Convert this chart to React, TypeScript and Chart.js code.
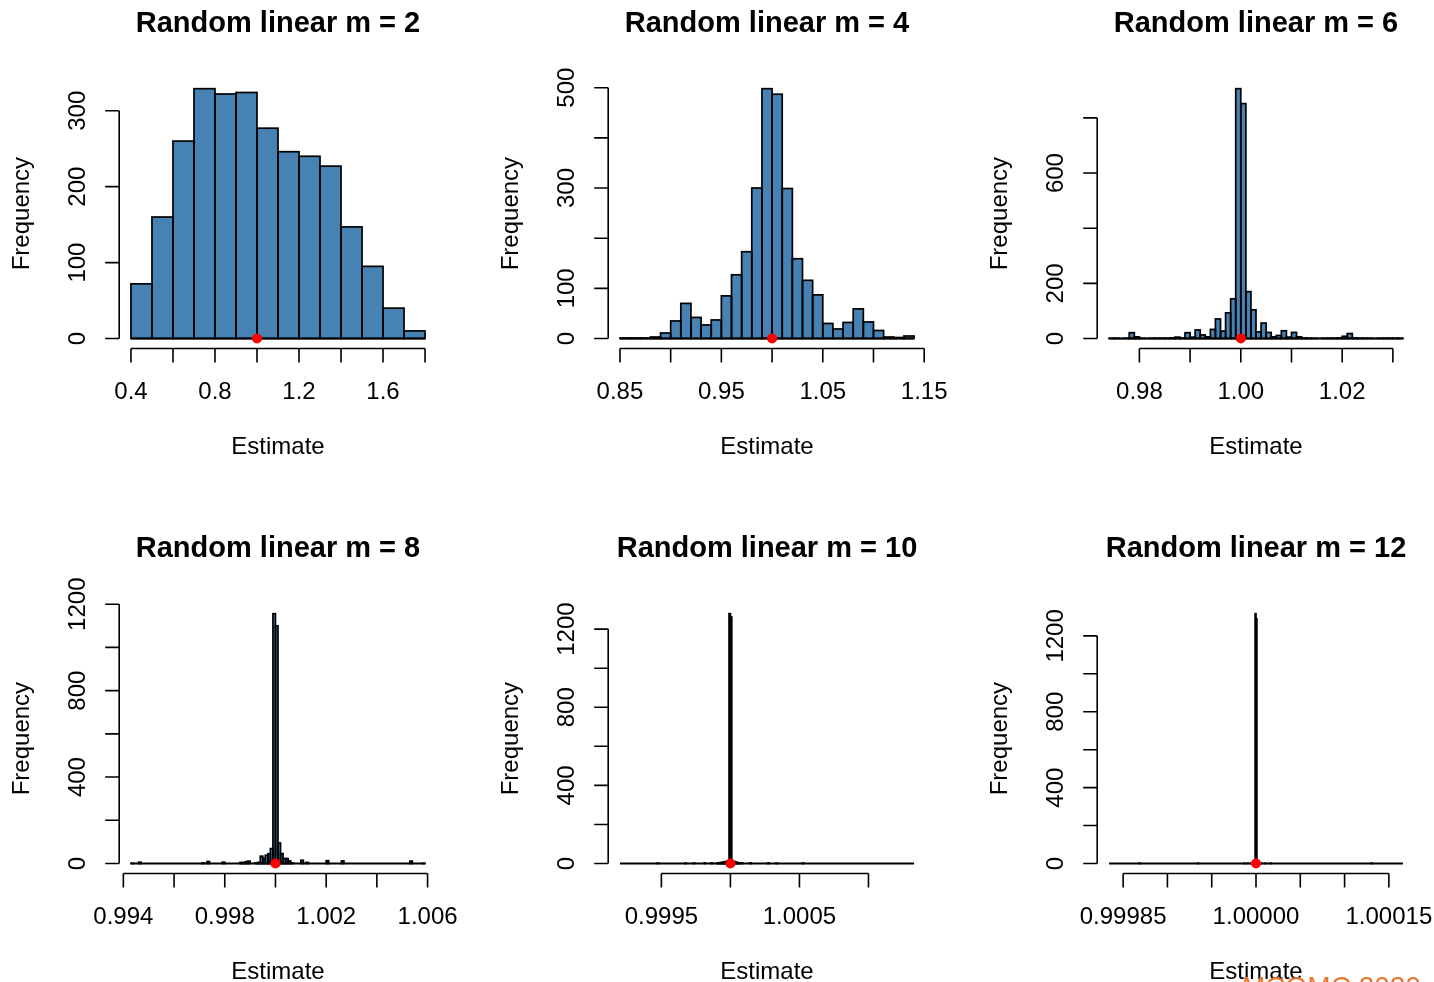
import React, { useEffect, useRef } from "react";
import { Chart, registerables } from "chart.js";

Chart.register(...registerables);

// ---------- Panel 1: m = 2 (dense bins) ----------
const m2BinStart = 0.4;
const m2BinWidth = 0.1;
const m2Counts = [72, 160, 260, 329, 322, 324, 277, 246, 240, 227, 147, 95, 40, 10];
const m2XTicks = [0.4, 0.6, 0.8, 1.0, 1.2, 1.4, 1.6, 1.8];
const m2XLabels = ["0.4", "", "0.8", "", "1.2", "", "1.6", ""];
const m2YTicks = [0, 100, 200, 300];
const m2YLabels = ["0", "100", "200", "300"];

// ---------- Panel 2: m = 4 (dense bins) ----------
const m4BinStart = 0.85;
const m4BinWidth = 0.01;
const m4Counts = [1, 1, 1, 3, 11, 35, 70, 42, 27, 37, 85, 127, 173, 300, 498, 487, 299, 159, 116, 87, 30, 19, 32, 59, 33, 16, 3, 2, 5];
const m4XTicks = [0.85, 0.9, 0.95, 1.0, 1.05, 1.1, 1.15];
const m4XLabels = ["0.85", "", "0.95", "", "1.05", "", "1.15"];
const m4YTicks = [0, 100, 200, 300, 400, 500];
const m4YLabels = ["0", "100", "", "300", "", "500"];

// ---------- Panel 3: m = 6 (dense bins) ----------
const m6BinStart = 0.974;
const m6BinWidth = 0.001;
const m6Counts = [
  1, 1, 0, 1, 21, 6, 1, 0, 1, 1,
  1, 1, 2, 5, 2, 21, 5, 31, 13, 6,
  33, 71, 27, 93, 144, 906, 852, 170, 104, 24,
  56, 22, 6, 11, 28, 5, 22, 6, 2, 1,
  1, 0, 1, 1, 1, 2, 8, 18, 2, 1,
  1, 1, 0, 1, 1, 1, 1, 1,
];
const m6XTicks = [0.98, 0.99, 1.0, 1.01, 1.02, 1.03];
const m6XLabels = ["0.98", "", "1.00", "", "1.02", ""];
const m6YTicks = [0, 200, 400, 600, 800];
const m6YLabels = ["0", "200", "", "600", ""];

// ---------- Panel 4: m = 8 (sparse non-empty bins) ----------
const m8Lo = 0.9943;
const m8Hi = 1.0059;
const m8BinWidth = 0.0001;
const m8Bins = [0.9943, 0.9946, 0.9971, 0.9973, 0.9979, 0.9986, 0.9987, 0.9988, 0.9989, 0.9992, 0.9993, 0.9994, 0.9995, 0.9996, 0.9997, 0.9998, 0.9999, 1.0, 1.0001, 1.0002, 1.0003, 1.0004, 1.0005, 1.0006, 1.001, 1.0012, 1.002, 1.0026, 1.0053, 1.0058];
const m8Counts = [1, 6, 2, 9, 6, 5, 4, 8, 11, 3, 5, 34, 24, 38, 45, 69, 1156, 1100, 95, 46, 23, 23, 12, 3, 15, 5, 13, 12, 11, 1];
const m8XTicks = [0.994, 0.996, 0.998, 1.0, 1.002, 1.004, 1.006];
const m8XLabels = ["0.994", "", "0.998", "", "1.002", "", "1.006"];
const m8YTicks = [0, 200, 400, 600, 800, 1000, 1200];
const m8YLabels = ["0", "", "400", "", "800", "", "1200"];

// ---------- Panel 5: m = 10 (sparse non-empty bins) ----------
const m10Lo = 0.9992;
const m10Hi = 1.00133;
const m10BinWidth = 0.00001;
const m10Bins = [0.99947, 0.99967, 0.99973, 0.99981, 0.99986, 0.9999, 0.99991, 0.99992, 0.99993, 0.99994, 0.99995, 0.99996, 0.99997, 0.99998, 0.99999, 1.0, 1.00001, 1.00002, 1.00003, 1.00004, 1.00005, 1.00006, 1.00008, 1.00014, 1.00027, 1.00033, 1.00052];
const m10Counts = [2, 2, 2, 3, 3, 2, 3, 4, 5, 6, 7, 9, 11, 14, 1279, 1262, 14, 10, 8, 6, 4, 3, 2, 3, 3, 2, 2];
const m10XTicks = [0.9995, 1.0, 1.0005, 1.001];
const m10XLabels = ["0.9995", "", "1.0005", ""];
const m10YTicks = [0, 200, 400, 600, 800, 1000, 1200];
const m10YLabels = ["0", "", "400", "", "800", "", "1200"];

// ---------- Panel 6: m = 12 (sparse non-empty bins) ----------
const m12Lo = 0.999834;
const m12Hi = 1.000166;
const m12BinWidth = 0.000001;
const m12Bins = [0.999868, 0.999934, 0.999986, 0.99999, 0.999994, 0.999997, 0.999999, 1.0, 1.000002, 1.000006, 1.00001, 1.000016, 1.00013];
const m12Counts = [2, 2, 1, 1, 1, 2, 1317, 1290, 2, 1, 1, 2, 2];
const m12XTicks = [0.99985, 0.9999, 0.99995, 1.0, 1.00005, 1.0001, 1.00015];
const m12XLabels = ["0.99985", "", "", "1.00000", "", "", "1.00015"];
const m12YTicks = [0, 200, 400, 600, 800, 1000, 1200];
const m12YLabels = ["0", "", "400", "", "800", "", "1200"];

const trueValue = 1;
const titles = ["Random linear m = 2", "Random linear m = 4", "Random linear m = 6", "Random linear m = 8", "Random linear m = 10", "Random linear m = 12"];

type Panel = {
  title: string;
  binWidth: number;
  binStarts: number[];
  counts: number[];
  lo: number;
  hi: number;
  xTicks: number[];
  xLabels: string[];
  yTicks: number[];
  yLabels: string[];
};

const denseStarts = (start: number, width: number, counts: number[]) =>
  counts.map((_, i) => start + i * width);

const panels: Panel[] = [
  { title: titles[0], binWidth: m2BinWidth, binStarts: denseStarts(m2BinStart, m2BinWidth, m2Counts), counts: m2Counts, lo: m2BinStart, hi: m2BinStart + m2Counts.length * m2BinWidth, xTicks: m2XTicks, xLabels: m2XLabels, yTicks: m2YTicks, yLabels: m2YLabels },
  { title: titles[1], binWidth: m4BinWidth, binStarts: denseStarts(m4BinStart, m4BinWidth, m4Counts), counts: m4Counts, lo: m4BinStart, hi: m4BinStart + m4Counts.length * m4BinWidth, xTicks: m4XTicks, xLabels: m4XLabels, yTicks: m4YTicks, yLabels: m4YLabels },
  { title: titles[2], binWidth: m6BinWidth, binStarts: denseStarts(m6BinStart, m6BinWidth, m6Counts), counts: m6Counts, lo: m6BinStart, hi: m6BinStart + m6Counts.length * m6BinWidth, xTicks: m6XTicks, xLabels: m6XLabels, yTicks: m6YTicks, yLabels: m6YLabels },
  { title: titles[3], binWidth: m8BinWidth, binStarts: m8Bins, counts: m8Counts, lo: m8Lo, hi: m8Hi, xTicks: m8XTicks, xLabels: m8XLabels, yTicks: m8YTicks, yLabels: m8YLabels },
  { title: titles[4], binWidth: m10BinWidth, binStarts: m10Bins, counts: m10Counts, lo: m10Lo, hi: m10Hi, xTicks: m10XTicks, xLabels: m10XLabels, yTicks: m10YTicks, yLabels: m10YLabels },
  { title: titles[5], binWidth: m12BinWidth, binStarts: m12Bins, counts: m12Counts, lo: m12Lo, hi: m12Hi, xTicks: m12XTicks, xLabels: m12XLabels, yTicks: m12YTicks, yLabels: m12YLabels },
];

// layout (R-like mfrow 2x3)
const CANVAS_W = 478;
const CANVAS_H = 491;
const PLOT_LEFT = 119.2;
const PLOT_TOP = 78.7;
const PLOT_W = 317.6;
const PLOT_H = 269.8;
const COL_X = [0, 489.2, 978.4];
const ROW_Y = [0, 524.8];

const FONT = '"Liberation Sans", Arial, Helvetica, sans-serif';

function makeAxesPlugin(p: Panel) {
  return {
    id: "rAxes",
    // R-style bar outlines: stroke centred on each bar edge
    afterDatasetDraw(chart: any, args: any) {
      if (args.index !== 0) return;
      const ctx = chart.ctx;
      ctx.save();
      ctx.strokeStyle = "#000";
      ctx.lineWidth = 1.7;
      ctx.lineJoin = "miter";
      args.meta.data.forEach((el: any) => {
        const top = Math.min(el.y, el.base);
        const h = Math.abs(el.base - el.y);
        ctx.strokeRect(el.x - el.width / 2, top, el.width, h);
      });
      ctx.restore();
    },
    afterDraw(chart: any) {
      const { ctx, chartArea: a, scales } = chart;
      const x = scales.x;
      const y = scales.y;
      ctx.save();
      ctx.strokeStyle = "#000";
      ctx.fillStyle = "#000";
      ctx.lineWidth = 1.6;
      ctx.lineCap = "butt";

      // x axis
      const xb = a.bottom;
      const xs = p.xTicks.map((t) => x.getPixelForValue(t));
      ctx.beginPath();
      ctx.moveTo(xs[0], xb);
      ctx.lineTo(xs[xs.length - 1], xb);
      xs.forEach((px) => {
        ctx.moveTo(px, xb);
        ctx.lineTo(px, xb + 14);
      });
      ctx.stroke();
      ctx.font = `24px ${FONT}`;
      ctx.textAlign = "center";
      ctx.textBaseline = "middle";
      xs.forEach((px, i) => {
        if (p.xLabels[i]) ctx.fillText(p.xLabels[i], px, xb + 43.5);
      });
      ctx.fillText("Estimate", (a.left + a.right) / 2, xb + 98.5);

      // y axis
      const yl = a.left;
      const ys = p.yTicks.map((t) => y.getPixelForValue(t));
      ctx.beginPath();
      ctx.moveTo(yl, ys[0]);
      ctx.lineTo(yl, ys[ys.length - 1]);
      ys.forEach((py) => {
        ctx.moveTo(yl, py);
        ctx.lineTo(yl - 14, py);
      });
      ctx.stroke();
      ys.forEach((py, i) => {
        if (!p.yLabels[i]) return;
        ctx.save();
        ctx.translate(yl - 41, py);
        ctx.rotate(-Math.PI / 2);
        ctx.fillText(p.yLabels[i], 0, 0);
        ctx.restore();
      });
      ctx.save();
      ctx.translate(yl - 97, (a.top + a.bottom) / 2);
      ctx.rotate(-Math.PI / 2);
      ctx.fillText("Frequency", 0, 0);
      ctx.restore();

      // title
      ctx.font = `bold 29px ${FONT}`;
      ctx.fillText(p.title, (a.left + a.right) / 2, a.top - 55);
      ctx.restore();
    },
  };
}

function HistPanel({ panel, left, top }: { panel: Panel; left: number; top: number }) {
  const ref = useRef<HTMLCanvasElement>(null);
  useEffect(() => {
    const p = panel;
    const ymax = Math.max(...p.counts);
    const xr = p.hi - p.lo;
    const bars = p.binStarts.map((b, i) => ({ x: b + p.binWidth / 2, y: p.counts[i] }));
    const chart = new Chart(ref.current as HTMLCanvasElement, {
      type: "bar",
      data: {
        datasets: [
          {
            type: "bar",
            data: bars,
            backgroundColor: "#4682B4",
            borderWidth: 0,
            inflateAmount: 0,
            barPercentage: 1,
            categoryPercentage: 1,
            order: 2,
          } as any,
          {
            type: "line",
            data: [
              { x: p.lo, y: 0 },
              { x: p.hi, y: 0 },
            ],
            borderColor: "#000000",
            borderWidth: 1.8,
            pointRadius: 0,
            order: 1,
          } as any,
          {
            type: "line",
            data: [{ x: trueValue, y: 0 }],
            showLine: false,
            pointRadius: 5,
            pointBackgroundColor: "#FF0000",
            pointBorderColor: "#FF0000",
            pointBorderWidth: 0,
            order: 0,
          } as any,
        ],
      },
      options: {
        animation: false,
        responsive: false,
        maintainAspectRatio: false,
        events: [],
        layout: {
          padding: {
            left: PLOT_LEFT,
            top: PLOT_TOP,
            right: CANVAS_W - PLOT_LEFT - PLOT_W,
            bottom: CANVAS_H - PLOT_TOP - PLOT_H,
          },
        },
        plugins: {
          legend: { display: false },
          tooltip: { enabled: false },
          title: { display: false },
        },
        scales: {
          x: {
            type: "linear",
            display: false,
            offset: false,
            min: p.lo - 0.04 * xr,
            max: p.hi + 0.04 * xr,
          },
          y: {
            type: "linear",
            display: false,
            min: -0.04 * ymax,
            max: 1.04 * ymax,
          },
        },
      } as any,
      plugins: [makeAxesPlugin(p)],
    });
    return () => chart.destroy();
  }, [panel]);
  return (
    <canvas
      ref={ref}
      width={CANVAS_W}
      height={CANVAS_H}
      style={{ position: "absolute", left, top, width: CANVAS_W, height: CANVAS_H }}
    />
  );
}

export default function App() {
  return (
    <div
      style={{
        position: "fixed",
        left: 0,
        top: 0,
        width: 1434,
        height: 982,
        overflow: "hidden",
        background: "#ffffff",
      }}
    >
      {panels.map((p, i) => (
        <HistPanel key={i} panel={p} left={COL_X[i % 3]} top={ROW_Y[Math.floor(i / 3)]} />
      ))}
      <div
        style={{
          position: "absolute",
          left: 1242,
          top: 973,
          fontFamily: FONT,
          fontSize: 28,
          lineHeight: "28px",
          color: "#E8772E",
          whiteSpace: "nowrap",
        }}
      >
        MCQMC 2020
      </div>
    </div>
  );
}
